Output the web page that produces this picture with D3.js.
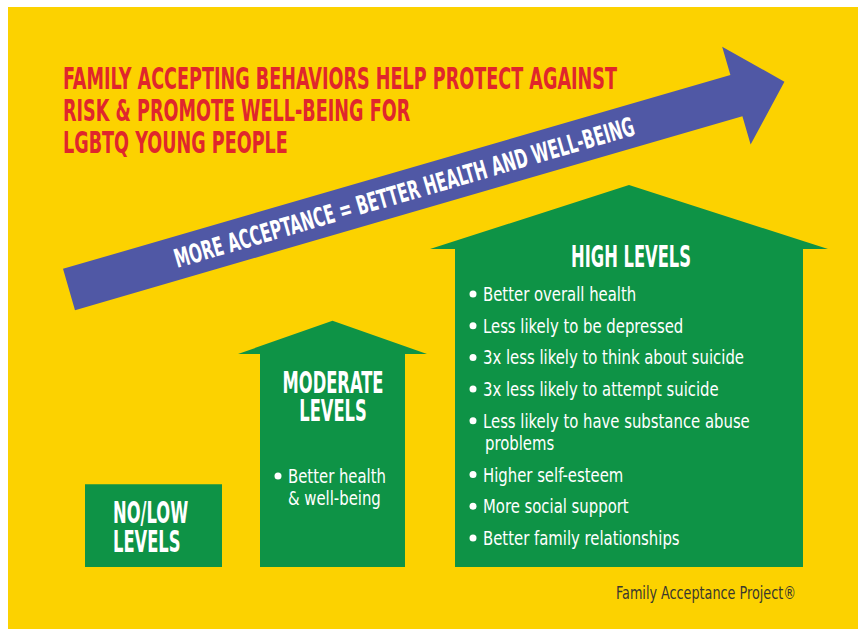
<!DOCTYPE html>
<html>
<head>
<meta charset="utf-8">
<title>Family Accepting Behaviors</title>
<script src="https://cdn.jsdelivr.net/npm/d3@7"></script>
<style>
  body { margin: 0; background: #fff; }
  svg { display: block; }
</style>
</head>
<body>
<svg width="858" height="629"></svg>
<script>
// ---- content ----
var titleLines = ["FAMILY ACCEPTING BEHAVIORS HELP PROTECT AGAINST",
                  "RISK & PROMOTE WELL-BEING FOR",
                  "LGBTQ YOUNG PEOPLE"];
var arrowLabel = "MORE ACCEPTANCE = BETTER HEALTH AND WELL-BEING";
var levelNames = [["NO/LOW", "LEVELS"], ["MODERATE", "LEVELS"], ["HIGH LEVELS"]];
var levelHeight = [26, 67, 100];     // body height, % of the tallest one
var roofHeight = [0, 10.4, 20.1];    // roof height, same units
var levelBullets = [
  [],
  [["Better health", "& well-being"]],
  [["Better overall health"],
   ["Less likely to be depressed"],
   ["3x less likely to think about suicide"],
   ["3x less likely to attempt suicide"],
   ["Less likely to have substance abuse", "problems"],
   ["Higher self-esteem"],
   ["More social support"],
   ["Better family relationships"]]
];
var credit = "Family Acceptance Project\u00AE";

// ---- layout ----
var W = 858, H = 629;
var yellow = "#fcd200", green = "#0e9346", blue = "#5058a5", red = "#e0262c";
var headFont = "'Liberation Sans Narrow', 'DejaVu Sans Condensed', 'Roboto', sans-serif";
var cols = [
  {x0: 85,  x1: 222, eave: 0,  headX: 113, anchor: "start",  headY: [39, 68], bx: 0,   by0: 0},
  {x0: 260, x1: 405, eave: 22, headX: 333, anchor: "middle", headY: [39, 67], bx: 278, by0: 129},
  {x0: 455, x1: 803, eave: 25, headX: 631, anchor: "middle", headY: [18],     bx: 473, by0: 52}
];
var y = d3.scaleLinear().domain([0, 100]).range([567, 249]);

var svg = d3.select("svg");
svg.append("rect").attr("x", 8).attr("y", 7).attr("width", W - 8).attr("height", H - 7).attr("fill", yellow);

// squeeze a group of text lines so that one reference line gets its measured width
function fitGroup(sel, refIndex, refWidth) {
  var nodes = sel.nodes();
  var k = refWidth / nodes[refIndex].getComputedTextLength();
  nodes.forEach(function (n) {
    var w = n.getComputedTextLength();
    d3.select(n).attr("textLength", w * k).attr("lengthAdjust", "spacingAndGlyphs");
  });
}

// title
var tl = svg.selectAll(".title").data(titleLines).enter().append("text")
  .attr("class", "title")
  .attr("x", 63).attr("y", function (d, i) { return 89 + i * 32; })
  .attr("font-family", headFont).attr("font-weight", "bold").attr("font-size", 31)
  .attr("fill", red).text(function (d) { return d; });
fitGroup(tl, 0, 554);

// arrow
var ag = svg.append("g").attr("transform", "translate(69,289.5) rotate(-16.2)");
var sw = 21.5, shaft = 695, hw = 51, tip = 745;
ag.append("path")
  .attr("d", d3.line()([[0, -sw], [shaft, -sw], [shaft, -hw], [tip, 0], [shaft, hw], [shaft, sw], [0, sw]]) + "Z")
  .attr("fill", blue);
var al = ag.append("text").attr("x", 349).attr("y", 9.5)
  .attr("text-anchor", "middle")
  .attr("font-family", headFont).attr("font-weight", "bold").attr("font-size", 26)
  .attr("fill", "#fff").text(arrowLabel);
fitGroup(al, 0, 478);

// houses
cols.forEach(function (c, i) {
  var top = y(levelHeight[i]), bottom = y(0), cx = (c.x0 + c.x1) / 2;
  var pts = [[c.x0, bottom], [c.x0, top]];
  if (roofHeight[i] > 0) {
    pts.push([c.x0 - c.eave, top], [cx, y(levelHeight[i] + roofHeight[i])], [c.x1 + c.eave, top]);
  }
  pts.push([c.x1, top], [c.x1, bottom]);
  svg.append("path").attr("d", d3.line()(pts) + "Z").attr("fill", green);
});

var heads = [];
cols.forEach(function (c, i) {
  var top = y(levelHeight[i]);
  levelNames[i].forEach(function (t, j) {
    heads.push(svg.append("text").attr("x", c.headX).attr("y", top + c.headY[j])
      .attr("text-anchor", c.anchor)
      .attr("font-family", headFont).attr("font-weight", "bold").attr("font-size", 30)
      .attr("fill", "#fff").text(t).node());
  });
});
fitGroup(d3.selectAll(heads), heads.length - 1, 120);

// bullets
var bodyFont = "'Liberation Sans Narrow', 'DejaVu Sans Condensed', 'Open Sans', sans-serif";
var lines = [], refNode = null;
cols.forEach(function (c, i) {
  var top = y(levelHeight[i]);
  var by = top + c.by0;
  levelBullets[i].forEach(function (item) {
    svg.append("circle").attr("cx", c.bx).attr("cy", by - 7).attr("r", 3.5).attr("fill", "#fff");
    item.forEach(function (t, j) {
      var n = svg.append("text").attr("x", c.bx + 10 + (j > 0 && i == 2 ? 2 : 0)).attr("y", by)
        .attr("font-family", bodyFont).attr("font-size", 20)
        .attr("fill", "#fff").text(t).node();
      lines.push(n);
      if (t == "3x less likely to think about suicide") refNode = lines.length - 1;
      by += 22;
    });
    by += 9.7;
  });
});
fitGroup(d3.selectAll(lines), refNode, 261);

// credit
var cr = svg.append("text").attr("x", 616).attr("y", 599)
  .attr("font-family", bodyFont).attr("font-size", 18.5)
  .attr("fill", "#3a382e").text(credit);
fitGroup(cr, 0, 180);
</script>
</body>
</html>
